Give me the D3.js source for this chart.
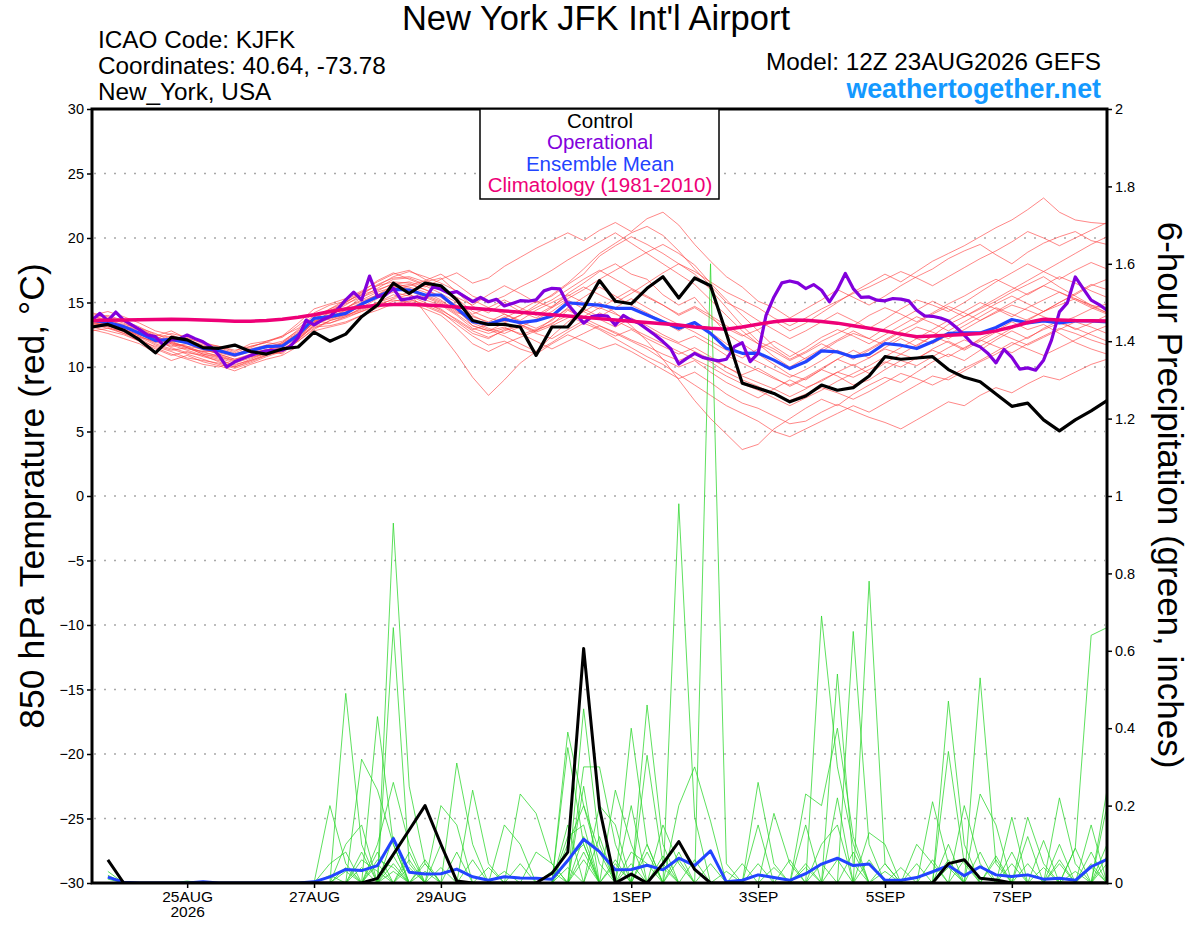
<!DOCTYPE html>
<html><head><meta charset="utf-8">
<script src="https://cdn.jsdelivr.net/npm/d3@7"></script>
<style>
html,body{margin:0;padding:0;background:#fff;}
svg{display:block;font-family:"Liberation Sans",Arial,Helvetica,sans-serif;}
</style></head>
<body>
<svg id="chart" width="1200" height="927"></svg>
<script>
// ---------------- DATA ----------------
const runStart = "2026-08-23T12:00:00Z";
const tickDates = ["2026-08-25","2026-08-27","2026-08-29","2026-09-01","2026-09-03","2026-09-05","2026-09-07"];
const tickLabels = ["25AUG","27AUG","29AUG","1SEP","3SEP","5SEP","7SEP"];
const yearLabel = "2026";
const tempTicks = [-30,-25,-20,-15,-10,-5,0,5,10,15,20,25,30];
const gridTemps = [-25,-20,-15,-10,-5,0,5,10,15,20,25];
const precipTicks = [0,0.2,0.4,0.6,0.8,1,1.2,1.4,1.6,1.8,2];
const legendItems = ["Control","Operational","Ensemble Mean","Climatology (1981-2010)"];

// 6-hourly 850 hPa temperature (°C), 65 steps from 23AUG 12Z
const controlTemp = [13.1,13.3,12.85,12.1,11.1,12.3,12.1,11.5,11.45,11.7,
 11.2,11.0,11.4,11.55,12.7,12.0,12.55,13.9,14.8,16.5,
 15.7,16.5,16.3,15.2,13.6,13.3,13.3,13.1,10.9,13.1,
 13.1,14.55,16.7,15.1,14.9,16.1,17.0,15.35,16.9,16.3,
 12.6,8.75,8.35,7.95,7.3,7.75,8.6,8.2,8.4,9.3,
 10.8,10.6,10.7,10.8,9.8,9.2,8.85,7.9,6.95,7.2,
 5.9,5.05,5.9,6.6,7.4];
const meanTemp = [13.64,13.44,13.13,12.61,12.05,12.14,11.89,11.45,11.27,10.93,
 11.27,11.58,11.63,12.48,13.77,13.9,14.16,14.88,15.45,16.02,
 15.97,15.58,15.58,14.55,13.51,13.33,13.7,13.44,13.59,13.95,
 14.98,14.88,14.8,14.55,14.55,14.03,13.51,13.0,13.44,12.61,
 11.45,11.06,11.08,10.53,9.88,10.4,11.25,11.17,10.78,10.99,
 11.82,11.69,11.43,11.95,12.6,12.64,12.64,13.06,13.68,13.42,
 13.57,13.42,13.57,13.57,13.5];
const climTemp = [13.6,13.62,13.64,13.66,13.68,13.7,13.68,13.64,13.6,13.55,
 13.55,13.6,13.7,13.85,14.05,14.3,14.5,14.65,14.78,14.85,
 14.85,14.8,14.75,14.65,14.55,14.45,14.35,14.25,14.15,14.05,
 13.95,13.85,13.75,13.65,13.55,13.45,13.35,13.25,13.1,13.0,
 12.93,13.1,13.32,13.5,13.65,13.62,13.52,13.4,13.2,13.0,
 12.8,12.55,12.35,12.4,12.46,12.52,12.6,12.8,13.1,13.45,
 13.7,13.65,13.6,13.58,13.57];
// 3-hourly operational, 129 steps
const operTemp = [13.64,14.16,13.6,14.26,13.64,13.26,12.9,12.48,12.35,11.7,
 12.14,12.2,12.48,12.2,11.95,11.57,10.9,10.0,10.4,10.65,
 10.9,11.1,11.25,11.3,11.3,11.6,12.3,13.64,13.26,13.64,
 13.9,14.5,15.2,15.8,15.2,17.05,15.45,15.57,16.1,15.2,
 15.3,15.45,15.25,16.23,16.02,15.71,15.84,15.45,15.06,15.4,
 15.06,15.25,14.73,14.93,15.14,15.1,15.2,15.9,16.1,16.05,
 14.86,14.14,13.4,13.9,14.0,13.95,13.25,14.0,13.64,13.38,
 12.92,12.48,11.97,11.4,10.23,10.67,11.06,10.75,10.6,10.47,
 10.6,11.57,11.88,10.41,11.06,14.0,15.43,16.52,16.67,16.52,
 16.08,16.39,15.95,15.05,16.0,17.25,16.08,15.39,15.43,15.18,
 15.13,15.31,15.26,15.13,14.4,13.96,13.93,13.8,13.57,13.06,
 12.47,11.82,11.56,11.05,10.32,11.36,10.74,9.83,9.93,9.75,
 10.53,12.08,14.27,14.97,16.98,16.08,15.18,14.84,14.4];

const memberTemps = [
 [13.9,13.7,13.2,12.9,12.4,12.8,12.2,11.9,11.6,11.2, 11.8,12.0,12.3,13.2,14.2,14.8,15.1,15.6,16.0,16.4, 16.6,16.2,16.8,17.3,16.5,16.9,17.8,18.5,19.2,19.8, 20.4,19.8,20.6,21.2,20.5,21.5,22.0,21.0,19.5,18.2, 17.0,16.2,15.1,14.6,13.8,14.5,15.2,16.0,15.4,14.8, 15.5,16.3,17.0,17.6,18.4,19.0,19.5,18.7,18.0,18.9, 19.6,20.1,20.5,19.8,19.5],
 [13.3,13.0,12.8,12.2,11.5,11.0,10.6,10.2,10.0,10.4, 10.8,11.0,11.2,12.0,13.0,13.6,14.0,14.5,15.0,15.4, 15.8,14.2,12.6,11.0,9.2,7.8,9.0,10.3,11.2,12.4, 13.5,14.3,15.0,14.2,13.2,12.0,10.6,9.0,7.4,6.0, 4.8,3.6,4.0,5.2,6.0,6.8,7.5,7.0,7.9,8.6, 9.2,8.8,9.6,10.4,11.0,10.5,11.3,12.1,12.8,12.2, 13.0,13.6,12.9,13.4,14.0],
 [13.5,13.8,13.4,12.9,12.3,11.8,11.4,11.2,10.8,10.5, 10.9,11.4,11.0,12.2,13.5,14.2,14.8,15.6,16.4,16.9, 17.0,16.6,16.9,15.8,14.7,14.2,15.0,14.3,13.8,14.6, 15.7,16.5,17.4,18.0,17.2,16.8,15.6,14.8,15.4,14.0, 12.6,11.8,11.0,10.2,9.4,9.0,9.8,10.6,11.3,10.7, 11.5,12.2,11.6,12.4,13.3,13.9,14.5,15.1,15.8,16.4, 17.0,16.2,15.5,14.8,14.2],
 [14.0,14.3,13.9,13.4,12.8,12.5,12.0,11.4,11.0,10.6, 11.0,11.7,12.0,12.8,13.6,13.4,13.9,14.6,15.3,16.2, 16.4,16.0,15.4,14.5,13.2,12.8,13.1,12.5,12.9,13.3, 14.4,13.8,13.2,12.6,12.0,11.4,10.6,10.0,10.5,9.6, 8.8,8.2,7.6,8.3,9.0,8.4,8.9,9.6,10.2,9.5, 10.3,11.0,10.6,11.4,12.0,11.4,12.2,12.8,13.5,12.9, 13.3,12.6,11.9,11.4,11.0],
 [13.2,13.4,13.1,12.7,12.0,11.6,11.8,11.3,11.1,10.8, 11.2,11.3,11.8,12.6,13.4,14.0,14.6,15.2,15.8,16.2, 16.0,15.5,15.0,14.2,13.9,13.5,14.1,13.6,14.4,15.0, 15.6,15.0,14.5,15.3,16.0,15.4,14.8,14.0,14.6,13.8, 13.0,12.4,12.9,13.6,12.8,13.4,14.2,15.0,15.8,16.5, 17.2,16.6,17.4,18.2,18.8,19.4,20.1,20.8,21.4,22.2, 23.1,22.0,21.4,21.2,21.1],
 [12.9,12.6,12.2,11.8,11.1,10.5,10.9,10.4,10.1,9.7, 10.2,10.6,10.9,11.6,12.8,13.1,13.4,14.0,14.6,15.1, 15.3,14.8,14.3,13.3,12.4,11.7,12.0,11.4,11.0,11.8, 12.5,12.0,11.4,11.8,11.2,10.5,9.8,9.1,9.6,8.8, 7.9,7.2,6.8,6.2,5.6,5.8,6.5,7.1,6.6,6.1, 5.7,5.2,5.9,6.6,7.3,7.0,7.8,8.4,8.0,8.7, 9.3,9.0,9.6,10.2,10.6],
 [13.6,13.2,12.9,12.5,12.2,12.6,12.3,11.8,11.6,11.3, 11.6,11.9,12.4,13.4,14.5,14.9,15.3,15.9,16.6,17.2, 17.5,16.8,16.1,15.4,14.8,15.6,16.3,15.7,15.0,15.5, 16.4,17.2,18.6,19.4,20.1,19.5,18.8,18.0,17.2,16.0, 14.6,13.2,12.0,11.4,10.6,11.2,12.0,12.6,13.2,14.0, 14.6,14.1,13.5,14.2,14.9,15.5,16.2,16.8,16.2,15.6, 16.3,17.0,16.5,15.9,15.4],
 [13.4,13.6,13.3,13.0,12.6,12.0,11.5,11.0,10.7,10.3, 10.7,11.1,11.5,12.3,13.2,13.8,14.0,14.4,15.0,15.6, 15.2,14.9,14.5,13.6,12.8,12.3,12.8,13.2,12.6,12.2, 12.9,13.6,13.0,12.4,12.9,12.2,11.6,11.0,11.5,10.8, 10.0,9.4,9.9,9.2,8.5,9.1,9.8,9.3,8.6,9.0, 9.8,10.5,10.1,10.8,11.5,12.1,11.6,12.3,13.0,13.7, 14.3,14.8,15.3,14.7,14.2],
 [13.8,14.0,13.6,13.1,12.5,12.3,12.1,11.7,11.4,11.0, 11.4,11.7,11.4,12.1,13.3,14.1,14.5,15.4,16.1,16.8, 16.9,16.4,16.0,15.3,14.3,13.8,13.5,14.0,14.8,15.6, 16.5,17.6,18.8,19.6,20.4,20.9,20.2,19.0,17.6,16.3, 15.0,14.4,13.6,12.9,12.2,12.8,13.5,14.2,13.6,13.0, 13.7,14.5,15.2,14.8,14.3,15.0,15.8,16.6,17.3,18.0, 17.4,16.8,17.5,18.1,17.6],
 [13.0,13.2,12.8,12.4,11.8,11.4,11.0,10.6,10.2,9.9, 10.3,10.8,11.2,12.0,12.9,13.6,13.9,14.3,14.9,15.2, 15.0,14.5,14.0,13.0,11.8,11.2,11.8,12.3,12.8,13.4, 14.0,13.4,12.9,12.2,11.5,10.8,10.2,9.4,8.6,7.8, 7.0,6.4,5.8,5.0,4.6,5.2,5.8,6.4,7.0,6.5, 7.2,7.9,8.6,9.3,9.0,9.7,10.4,11.0,11.7,12.3, 12.9,13.4,13.0,12.5,12.0],
 [13.5,13.1,12.6,12.3,12.0,12.4,12.0,11.5,11.2,10.9, 11.5,12.0,12.4,13.0,14.0,14.4,14.9,15.4,15.9,16.5, 16.2,15.8,15.2,14.3,13.6,13.0,12.6,13.1,13.7,14.3, 15.2,14.5,13.9,14.6,15.3,14.6,13.9,13.3,12.7,12.0, 11.3,10.7,11.4,12.0,11.3,10.6,11.2,12.0,12.6,12.2, 11.7,12.4,13.1,12.7,12.2,12.9,13.6,14.2,14.8,14.4, 13.9,13.4,13.9,14.5,14.9],
 [14.2,13.9,13.5,13.0,12.4,11.9,11.6,11.4,11.0,10.6, 10.9,11.2,11.9,12.7,13.9,14.5,15.0,15.7,16.3,17.0, 17.4,17.0,16.5,15.9,15.2,14.6,14.1,13.5,13.0,13.6, 14.6,15.4,16.2,15.5,14.8,14.2,13.5,12.8,13.5,12.7, 11.8,11.0,10.4,9.8,9.2,9.8,10.5,11.3,10.8,11.4, 12.1,12.8,13.4,14.1,14.7,14.2,13.6,14.3,15.0,15.7, 16.3,15.8,15.2,14.6,14.1],
 [13.1,12.8,12.5,12.0,11.4,10.9,11.2,10.8,10.5,10.2, 10.5,10.9,11.3,12.1,13.2,13.4,13.8,14.3,14.7,15.3, 15.6,15.2,14.8,14.0,13.0,12.6,13.0,12.6,12.0,11.4, 12.0,12.6,13.2,12.7,12.1,11.6,11.0,10.5,11.0,10.4, 9.6,9.0,8.5,7.9,7.4,7.9,8.4,8.0,7.5,8.1, 8.8,9.5,9.1,8.6,9.2,9.9,10.5,11.2,11.9,11.4, 10.9,11.5,12.1,12.7,13.2],
 [13.7,13.5,13.2,12.8,12.3,12.0,11.9,11.6,11.5,11.1, 11.6,11.9,11.7,12.4,13.4,14.3,15.0,15.8,16.7,17.3, 16.8,16.3,15.7,15.0,14.1,14.6,15.2,14.6,14.0,14.7, 15.5,16.2,15.6,15.0,15.7,16.5,17.3,18.0,17.4,16.6, 15.8,15.2,14.6,13.8,13.2,13.8,14.5,15.1,15.7,16.2, 16.8,17.4,16.9,16.3,17.0,17.7,18.4,19.0,19.7,20.5, 20.0,19.4,20.0,20.6,21.2],
 [12.8,13.0,12.6,12.0,11.6,11.2,10.7,10.5,10.3,10.0, 10.4,10.9,11.3,12.2,13.1,13.2,13.5,14.0,14.4,14.9, 15.1,14.7,14.2,13.5,12.6,12.2,12.9,13.3,12.8,13.7, 14.5,13.9,14.6,14.1,13.6,13.0,12.3,11.8,11.2,10.6, 10.0,9.3,8.8,8.3,7.7,8.3,9.0,9.6,9.2,9.8, 10.4,10.0,10.7,11.3,10.8,11.5,12.1,11.6,11.1,11.8, 12.4,13.0,12.6,12.1,11.7],
 [13.9,13.6,13.0,12.6,12.2,11.8,11.6,11.1,10.9,10.5, 10.8,11.3,11.8,12.6,13.7,14.5,15.2,15.8,16.3,16.6, 16.5,16.0,15.5,14.8,14.0,13.4,13.8,14.4,15.1,14.6, 15.3,16.0,16.8,17.5,18.2,18.9,19.5,18.8,17.9,16.5, 15.2,14.0,12.8,11.6,10.8,11.5,12.3,12.9,12.4,11.8, 12.5,13.2,13.9,13.4,12.8,13.5,14.2,14.9,15.5,14.9, 14.3,15.0,15.7,16.4,16.0],
 [13.3,13.5,13.0,12.7,12.2,11.5,11.1,10.9,10.4,10.0, 10.5,11.0,11.1,12.3,13.5,13.7,14.1,14.8,15.4,15.8, 15.5,15.0,14.4,13.7,12.9,13.3,13.9,13.3,12.7,13.2, 13.8,14.3,13.7,13.1,13.8,13.2,12.5,11.9,12.4,11.7, 10.9,10.3,9.7,9.1,8.6,9.2,9.9,10.6,10.1,10.7, 11.4,11.0,11.7,12.4,11.9,11.3,12.0,12.7,12.2,11.7, 12.3,12.9,13.5,13.1,12.6],
 [13.6,13.3,12.9,12.4,11.9,11.7,11.3,10.9,10.6,10.1, 10.6,11.1,11.6,12.5,13.9,14.2,14.6,15.1,15.6,16.1, 15.9,15.4,14.9,14.1,13.2,12.8,13.4,14.0,14.6,15.2, 16.0,16.8,17.5,16.8,16.1,15.5,14.8,14.1,14.7,14.0, 13.2,12.5,11.8,11.2,10.5,11.1,11.8,11.2,10.6,11.3, 12.0,12.7,12.2,12.9,13.6,14.3,15.0,14.5,13.9,14.6, 15.2,15.8,15.3,14.8,14.5],
 [13.4,13.2,12.7,12.3,11.7,11.3,11.5,11.0,10.8,10.4, 10.9,11.3,11.6,12.4,13.6,13.9,14.4,15.0,15.6,16.3, 16.1,15.6,15.1,14.4,13.4,12.9,12.4,11.8,11.2,11.9, 12.7,13.4,14.2,13.6,13.0,12.4,11.8,11.2,10.6,10.0, 9.3,8.7,8.2,7.6,7.0,7.6,8.2,8.9,9.5,10.1, 10.8,11.5,12.2,11.8,12.5,13.2,13.9,14.6,14.1,13.6, 14.3,15.0,15.6,16.3,16.8],
 [13.2,13.4,12.9,12.5,12.1,11.9,11.5,11.2,11.2,10.9, 11.3,11.5,11.9,12.9,13.8,14.0,14.3,14.9,15.6,16.0, 16.3,16.7,17.2,16.4,15.5,15.0,15.5,16.2,16.8,17.5, 18.3,19.0,19.7,20.4,19.6,18.8,18.0,17.2,16.4,15.2, 14.0,12.8,11.8,10.8,10.0,10.7,11.4,12.1,12.8,12.2, 13.0,13.7,14.4,15.1,14.5,13.9,14.6,15.3,16.0,16.7, 17.4,18.1,18.8,19.5,20.1]
];

// 6-hour precipitation (inches), 64 periods ending 23AUG 18Z ... 8SEP 12Z
const controlPrecip = [0.06,0,0,0,0,0,0,0, 0,0,0,0,0,0,0,0, 0,0.012,0.074,0.137,0.2,0.1,0.005,0, 0,0,0,0,0.025,0.08,0.606,0.193, 0,0.023,0,0.05,0.107,0.035,0,0, 0,0,0,0,0,0,0,0, 0,0,0,0,0,0.05,0.06,0.012, 0.008,0,0,0,0,0,0,0];
const meanPrecip = [0.015,0.002,0,0,0,0,0.003,0, 0,0,0,0,0,0.003,0.016,0.035, 0.032,0.045,0.115,0.028,0.023,0.024,0.036,0.016, 0.007,0.016,0.013,0.012,0.01,0.058,0.113,0.081, 0.034,0.035,0.046,0.034,0.064,0.045,0.083,0.003, 0.007,0.021,0.014,0.007,0.024,0.049,0.064,0.045, 0.049,0.007,0.007,0.014,0.029,0.045,0.019,0.042, 0.021,0.017,0.021,0.01,0.012,0.007,0.042,0.061];
const memberPrecip = [
 [0.02,0,0,0,0,0,0,0, 0,0,0,0,0,0,0.2,0.05, 0,0,0,0,0,0,0,0, 0,0,0,0,0,0.39,0.2,0.05, 0,0,0,0,0,0,0,0, 0,0,0,0,0,0.69,0.3,0.1, 0,0,0,0,0,0.1,0,0, 0,0,0,0,0,0,0.15,0],
 [0,0,0,0,0,0,0,0, 0,0,0,0,0,0,0,0.49, 0.1,0,0.05,0,0,0,0,0, 0,0,0,0,0,0,0.45,0.1, 0,0,0.1,0,0,0,0,0, 0,0,0,0,0,0,0,0.65, 0.1,0,0,0,0,0,0,0.53, 0.05,0,0,0,0,0,0,0],
 [0,0,0,0,0,0,0,0, 0,0,0,0,0,0,0,0, 0,0.43,0.1,0,0,0,0.31,0.1, 0,0,0,0,0,0,0,0, 0,0,0.46,0.1,0,0,0,0, 0,0,0,0,0,0,0,0, 0.78,0.05,0,0,0,0,0,0, 0,0,0,0,0,0.09,0.64,0.66],
 [0,0,0,0,0,0,0,0, 0,0,0,0,0,0,0,0, 0,0,0.93,0.25,0.05,0,0,0, 0,0,0,0,0,0,0,0, 0,0,0,0,0.98,0.17,0,0, 0,0,0,0,0,0,0.54,0.05, 0,0,0,0,0,0.47,0.1,0, 0,0,0,0,0,0,0,0],
 [0,0,0,0,0,0,0,0, 0,0,0,0,0,0,0,0, 0,0,0.66,0.05,0,0,0,0, 0,0,0,0,0,0,0,0, 0,0.4,0.1,0,0,0,1.6,0.05, 0,0.05,0,0,0,0,0,0, 0,0,0,0,0,0,0,0, 0,0,0,0,0.22,0.05,0,0],
 [0,0,0,0,0,0,0,0, 0,0,0,0,0,0,0,0, 0.32,0.24,0.1,0,0,0,0,0, 0,0,0.23,0.18,0.05,0,0,0, 0,0,0,0,0,0,0,0, 0,0.26,0.05,0,0,0,0,0, 0,0,0,0,0,0.34,0.05,0, 0,0,0,0,0,0,0,0.2],
 [0,0,0,0,0,0,0,0, 0,0,0,0,0,0,0,0, 0,0.1,0.26,0.1,0,0,0,0.24, 0.05,0,0,0,0,0,0.3,0.3, 0.1,0,0,0,0,0,0,0, 0,0,0,0,0.23,0.2,0.4,0.12, 0,0,0,0,0,0,0,0, 0,0,0.17,0.05,0,0,0,0],
 [0,0,0,0,0,0,0,0, 0,0,0,0,0,0,0,0.1, 0.15,0,0,0,0,0.2,0.15,0, 0,0,0,0,0,0.35,0.1,0, 0.24,0.1,0,0,0,0,0,0, 0,0,0.18,0.05,0,0,0,0, 0,0,0,0,0.21,0.05,0,0, 0,0.17,0,0,0,0,0,0],
 [0,0,0,0,0,0,0,0, 0,0,0,0,0,0,0.05,0.08, 0,0,0,0,0,0,0,0, 0,0.15,0.1,0,0,0,0,0.2, 0.15,0,0.33,0.05,0,0,0,0, 0,0,0,0,0.15,0,0.22,0, 0,0,0,0,0,0,0,0.23, 0.15,0,0,0,0,0,0,0.24],
 [0,0,0,0,0,0,0,0, 0,0,0,0,0,0,0,0, 0,0.05,0,0.08,0,0,0,0, 0,0,0,0.08,0.05,0,0,0, 0,0.2,0,0,0.2,0.3,0.16,0, 0,0,0,0,0,0,0,0, 0.13,0.1,0,0,0,0,0,0, 0,0,0,0.11,0,0,0.05,0],
 [0,0,0,0,0,0,0,0, 0,0,0,0,0,0,0,0, 0.04,0,0,0,0.06,0,0,0, 0,0,0,0,0,0.12,0.15,0, 0,0,0,0.15,0.05,0,0,0, 0,0.15,0,0,0,0,0,0, 0,0,0,0.1,0.05,0,0,0, 0,0,0.05,0,0,0.09,0,0],
 [0,0,0,0,0,0,0,0, 0,0,0,0,0,0,0,0.03, 0,0,0.12,0,0,0.04,0,0, 0,0,0,0,0,0.1,0.2,0.08, 0,0,0,0,0,0,0,0, 0,0,0,0,0,0.1,0.15,0, 0,0,0,0,0,0,0.2,0.05, 0,0,0,0,0.05,0,0,0.1],
 [0.01,0,0,0,0,0,0,0, 0,0,0,0,0,0,0,0, 0,0.06,0.04,0,0,0,0,0, 0,0,0,0,0,0,0.12,0, 0,0.08,0.05,0,0,0,0,0, 0,0,0,0,0.05,0,0,0, 0,0.05,0,0,0,0,0,0, 0,0.08,0,0,0,0,0.08,0],
 [0.03,0,0,0,0,0,0,0, 0,0,0,0,0,0,0,0, 0,0,0,0.04,0,0,0.08,0, 0,0,0,0,0.03,0,0.08,0, 0.05,0,0,0,0.06,0,0,0, 0,0,0,0,0,0,0,0.08, 0,0,0.04,0,0,0,0,0, 0.06,0,0.12,0,0,0,0,0],
 [0,0,0,0,0,0,0,0, 0,0,0,0,0,0,0,0, 0.06,0.03,0,0,0,0,0,0, 0,0,0,0,0,0.06,0.1,0, 0,0,0,0.04,0,0,0,0.03, 0,0,0,0.06,0,0,0,0, 0,0,0,0,0.06,0,0,0, 0,0,0,0,0.1,0,0,0],
 [0.015,0,0,0,0,0.005,0,0, 0,0,0,0,0,0,0,0, 0,0,0.07,0,0.05,0,0,0, 0.04,0,0,0,0,0,0,0.12, 0,0,0,0,0,0.06,0,0, 0.05,0,0,0,0,0,0,0, 0,0,0,0,0,0.06,0,0, 0,0,0,0,0,0.03,0,0.05],
 [0,0,0,0,0,0,0,0, 0,0,0,0,0,0,0.02,0, 0,0.08,0,0,0,0,0,0.06, 0,0,0,0,0,0.15,0,0, 0,0,0.08,0,0,0,0,0, 0,0,0.04,0,0,0,0,0, 0.06,0,0,0,0,0,0,0.08, 0,0,0,0.04,0,0,0,0],
 [0,0,0,0,0,0,0,0, 0,0,0,0,0,0,0,0.04, 0,0,0,0.06,0,0,0,0, 0,0.03,0,0,0,0,0.25,0, 0.06,0,0,0,0,0,0,0, 0,0,0,0,0,0.05,0,0, 0,0,0,0.05,0,0,0.06,0, 0,0,0,0,0,0,0.04,0],
 [0,0,0,0,0,0,0,0, 0,0,0,0,0,0,0,0, 0,0,0.03,0,0,0.1,0,0, 0,0,0,0,0,0.04,0,0, 0,0.05,0,0,0.08,0,0.05,0, 0,0,0,0,0,0,0.06,0, 0,0,0,0,0,0.04,0,0, 0,0.05,0,0,0,0,0,0.07],
 [0,0,0,0,0,0,0,0, 0,0,0,0,0,0,0,0, 0.08,0,0,0,0.03,0,0,0, 0,0,0.05,0,0,0,0.06,0, 0,0,0,0.07,0,0,0,0, 0,0,0,0,0.04,0,0,0, 0,0.03,0,0,0,0,0,0, 0.07,0,0,0,0.06,0,0,0]
];

// ---------------- CHART ----------------
const svg = d3.select("#chart");
const W = 1200, H = 927;
const m = {left: 92, right: 1107, top: 109, bottom: 883};
const C = {member: "#ff4040", green: "#2bd62b", control: "#000000", oper: "#8200dc",
           mean: "#2244ff", clim: "#ee0077", web: "#1499ff", grid: "#a8a8a8"};

const t0 = new Date(runStart).getTime();
const HOUR = 3600 * 1000;
const x = d3.scaleUtc().domain([new Date(t0), new Date(t0 + 384 * HOUR)]).range([m.left, m.right]);
const yT = d3.scaleLinear().domain([-30, 30]).range([m.bottom, m.top]);
const yP = d3.scaleLinear().domain([0, 2]).range([m.bottom, m.top]);

svg.append("rect").attr("width", W).attr("height", H).attr("fill", "#fff");
svg.append("defs").append("clipPath").attr("id", "plotclip")
  .append("rect").attr("x", m.left).attr("y", m.top)
  .attr("width", m.right - m.left).attr("height", m.bottom - m.top);

// gridlines
svg.append("g").selectAll("line").data(gridTemps).join("line")
  .attr("x1", m.left + 2).attr("x2", m.right - 2)
  .attr("y1", d => yT(d)).attr("y2", d => yT(d))
  .attr("stroke", C.grid).attr("stroke-width", 1.6).attr("stroke-dasharray", "2,8");

const series6 = (arr, offset) => arr.map((v, i) => ({t: new Date(t0 + (i + offset) * 6 * HOUR), v}));
const series3 = arr => arr.map((v, i) => ({t: new Date(t0 + i * 3 * HOUR), v}));
const lineT = d3.line().x(d => x(d.t)).y(d => yT(d.v));
const lineP = d3.line().x(d => x(d.t)).y(d => yP(d.v));

const plot = svg.append("g").attr("clip-path", "url(#plotclip)");

// ensemble members temperature
plot.append("g").selectAll("path").data(memberTemps).join("path")
  .attr("d", d => lineT(series6(d, 0)))
  .attr("fill", "none").attr("stroke", C.member).attr("stroke-width", 0.9).attr("stroke-opacity", 0.7);

// ensemble members precipitation
plot.append("g").selectAll("path").data(memberPrecip).join("path")
  .attr("d", d => lineP(series6(d, 1)))
  .attr("fill", "none").attr("stroke", C.green).attr("stroke-width", 0.9).attr("stroke-opacity", 0.85);

// mean & control precipitation
plot.append("path").attr("d", lineP(series6(meanPrecip, 1)))
  .attr("fill", "none").attr("stroke", C.mean).attr("stroke-width", 3).attr("stroke-linejoin", "round");
plot.append("path").attr("d", lineP(series6(controlPrecip, 1)))
  .attr("fill", "none").attr("stroke", C.control).attr("stroke-width", 3).attr("stroke-linejoin", "round");

// temperature key lines
plot.append("path").attr("d", lineT(series6(meanTemp, 0)))
  .attr("fill", "none").attr("stroke", C.mean).attr("stroke-width", 3.2).attr("stroke-linejoin", "round");
plot.append("path").attr("d", lineT(series3(operTemp)))
  .attr("fill", "none").attr("stroke", C.oper).attr("stroke-width", 3.2).attr("stroke-linejoin", "round");
plot.append("path").attr("d", lineT(series6(climTemp, 0)))
  .attr("fill", "none").attr("stroke", C.clim).attr("stroke-width", 3.5).attr("stroke-linejoin", "round");
plot.append("path").attr("d", lineT(series6(controlTemp, 0)))
  .attr("fill", "none").attr("stroke", C.control).attr("stroke-width", 3.2).attr("stroke-linejoin", "round");

// axes
const fmtP = d => String(+d.toFixed(1));
const axL = svg.append("g").attr("transform", `translate(${m.left},0)`)
  .call(d3.axisLeft(yT).tickValues(tempTicks).tickSize(5).tickPadding(3));
const axR = svg.append("g").attr("transform", `translate(${m.right},0)`)
  .call(d3.axisRight(yP).tickValues(precipTicks).tickFormat(fmtP).tickSize(5).tickPadding(3));
const axB = svg.append("g").attr("transform", `translate(0,${m.bottom})`)
  .call(d3.axisBottom(x).tickValues(tickDates.map(d => new Date(d + "T00:00:00Z")))
    .tickFormat((d, i) => tickLabels[i]).tickSize(5).tickPadding(3));
[axL, axR, axB].forEach(a => {
  a.select(".domain").remove();
  a.selectAll(".tick line").attr("stroke", "#000").attr("stroke-width", 1.5);
  a.selectAll(".tick text").attr("font-family", "Liberation Sans, Arial, sans-serif")
    .attr("font-size", 14.5).attr("fill", "#000");
});
axB.selectAll(".tick text").attr("font-size", 15.5);
axB.selectAll(".tick").filter((d, i) => i === 0).append("text")
  .attr("y", 34).attr("fill", "#000").attr("text-anchor", "middle")
  .attr("font-size", 15.5).text(yearLabel);

// frame
svg.append("rect").attr("x", m.left).attr("y", m.top)
  .attr("width", m.right - m.left).attr("height", m.bottom - m.top)
  .attr("fill", "none").attr("stroke", "#000").attr("stroke-width", 3);

// legend
const lg = svg.append("g");
lg.append("rect").attr("x", 480).attr("y", m.top).attr("width", 239).attr("height", 90)
  .attr("fill", "#fff").attr("stroke", "#000").attr("stroke-width", 1.5);
const legendColors = [C.control, C.oper, C.mean, C.clim];
lg.selectAll("text").data(legendItems).join("text")
  .attr("x", 600).attr("y", (d, i) => 128 + i * 21.4)
  .attr("text-anchor", "middle").attr("font-size", 20.5)
  .attr("fill", (d, i) => legendColors[i]).text(d => d);

// header texts
svg.append("text").attr("x", 596).attr("y", 30).attr("text-anchor", "middle")
  .attr("font-size", 34.5).text("New York JFK Int'l Airport");
const hdr = ["ICAO Code: KJFK", "Coordinates: 40.64, -73.78", "New_York, USA"];
svg.append("g").selectAll("text").data(hdr).join("text")
  .attr("x", 98).attr("y", (d, i) => 48 + i * 26).attr("font-size", 24.3).text(d => d);
svg.append("text").attr("x", 1101).attr("y", 70).attr("text-anchor", "end")
  .attr("font-size", 24.3).text("Model: 12Z 23AUG2026 GEFS");
svg.append("text").attr("x", 1101).attr("y", 98).attr("text-anchor", "end")
  .attr("font-size", 26.8).attr("font-weight", "bold").attr("fill", C.web).text("weathertogether.net");

// axis titles
svg.append("text").attr("transform", "translate(32,496) rotate(-90)")
  .attr("text-anchor", "middle").attr("dominant-baseline", "central")
  .attr("font-size", 35.5).text("850 hPa Temprature (red, °C)");
svg.append("text").attr("transform", "translate(1170,495) rotate(90)")
  .attr("text-anchor", "middle").attr("dominant-baseline", "central")
  .attr("font-size", 35).text("6-hour Precipitation (green, inches)");
</script>
</body></html>
